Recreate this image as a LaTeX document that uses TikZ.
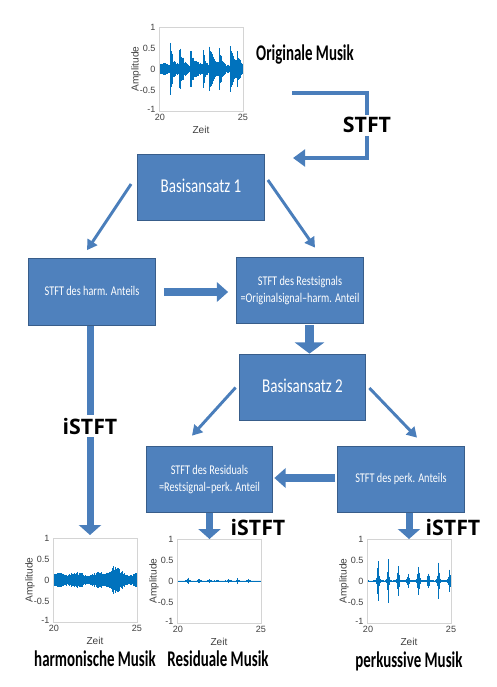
\documentclass[tikz,border=0pt]{standalone}
\usepackage{fontspec}
\setmainfont{Carlito}
\newfontfamily\achsenfont{Liberation Sans}
\newfontfamily\fettfont{Open Sans}
\usetikzlibrary{arrows.meta, calc, positioning}

\definecolor{kastenblau}{HTML}{4F81BD}
\definecolor{randblau}{HTML}{385D8A}
\definecolor{pfeilblau}{HTML}{4A7EBB}
\definecolor{wellenblau}{HTML}{0072BD}
\definecolor{achsgrau}{HTML}{D4D4D4}
\definecolor{beschrgrau}{HTML}{404040}

% Text wie im Original etwas in die Hoehe gezogen
\newcommand{\hoch}[2][1.3]{\scalebox{1}[#1]{\begin{tabular}{@{}c@{}}#2\end{tabular}}}

% Achsen + Signal, #1 Name, #2/#3 linke obere Ecke, #4 Huellkurve
\newcommand{\musikplot}[4]{%
  \begin{scope}[shift={(#2,#3)}]
    \pgfmathsetseed{11}
    \foreach \i in {0,...,168}{
      \pgfmathsetmacro{\zt}{\i/168}
      \pgfmathsetmacro{\amp}{42*(#4)*(0.6+0.4*rnd)}
      \draw[welle] (\i/2,42-\amp) -- (\i/2,42+\amp);
    }
    \node[achse] (#1) at (0,0) {};
    \node[tick, anchor=east] at (-2,0) {1};
    \node[tick, anchor=east] at (-2,21) {0.5};
    \node[tick, anchor=east] at (-2,42) {0};
    \node[tick, anchor=east] at (-2,63) {-0.5};
    \node[tick, anchor=east] at (-2,82) {-1};
    \node[tick] at (1,90) {20};
    \node[tick] at (84,90) {25};
    \node[tick, font=\achsenfont\fontsize{7.6}{8}\selectfont] at (42,103) {Zeit};
    \node[tick, font=\achsenfont\fontsize{7.6}{8}\selectfont, rotate=90] at (-23,42) {Amplitude};
  \end{scope}}

\begin{document}
\begin{tikzpicture}[x=0.75pt, y=-0.75pt,
    declare function={bu(\p,\q)=(\p>\q)*exp(-max(\p-\q,0)*32);
                      sp(\p,\q)=exp(-abs(\p-\q)*120);},
    kasten/.style={draw=randblau, fill=kastenblau, line width=0.8pt, text=white,
                   minimum width=95pt, minimum height=50pt, inner sep=0pt},
    gross/.style={kasten, font=\fontsize{11.3}{13}\selectfont},
    klein/.style={kasten, font=\fontsize{7.7}{9.5}\selectfont},
    duenn/.style={draw=pfeilblau, line width=2.2pt, -{Triangle[length=7.5pt, width=8.5pt]}},
    block/.style={draw=pfeilblau, line width=5.5pt, -{Triangle[length=8.5pt, width=14.5pt]}},
    blockdick/.style={draw=pfeilblau, line width=7pt, -{Triangle[length=8.5pt, width=22pt]}},
    lang/.style={draw=pfeilblau, line width=5.25pt, -{Triangle[length=7.5pt, width=16.5pt]}},
    knick/.style={draw=pfeilblau, line width=3pt, -{Triangle[length=9pt, width=12.5pt]}},
    musik/.style={font=\bfseries\fontsize{11.2}{13}\selectfont},
    fett/.style={font=\fettfont\bfseries\fontsize{16}{18}\selectfont, inner sep=2pt},
    welle/.style={draw=wellenblau, line width=0.45pt},
    achse/.style={draw=achsgrau, line width=0.6pt, minimum width=63pt, minimum height=63pt,
                  inner sep=0pt, outer sep=0pt, anchor=north west},
    tick/.style={font=\achsenfont\fontsize{6.8}{7}\selectfont, text=beschrgrau, inner sep=1pt}]
\useasboundingbox (0,0) rectangle (497,687);

% Signale
\musikplot{origplot}{159}{27}{0.12+0.04*sin(\zt*1700)+0.65*bu(\zt,0.13)+0.55*bu(\zt,0.24)+0.6*bu(\zt,0.37)+0.4*bu(\zt,0.52)+0.65*bu(\zt,0.6)+0.5*bu(\zt,0.71)+0.6*bu(\zt,0.85)+0.35*bu(\zt,0.93)}
\musikplot{harmplot}{53}{538}{0.15+0.04*sin(\zt*1500)+0.2*exp(-abs(\zt-0.72)*14)+0.08*exp(-abs(\zt-0.22)*25)}
\musikplot{residplot}{177}{539}{0.012+0.09*sp(\zt,0.13)+0.055*sp(\zt,0.26)+0.045*sp(\zt,0.38)+0.035*sp(\zt,0.48)+0.07*sp(\zt,0.61)+0.055*sp(\zt,0.72)+0.065*sp(\zt,0.85)}
\musikplot{perkplot}{367}{539}{0.014+0.6*sp(\zt,0.13)+0.6*sp(\zt,0.25)+0.55*sp(\zt,0.37)+0.28*sp(\zt,0.49)+0.65*sp(\zt,0.61)+0.32*sp(\zt,0.73)+0.65*sp(\zt,0.85)+0.38*sp(\zt,0.98)}

% Kaesten
\node[gross] (b1) at (201,187.5) {\hoch{Basisansatz 1}};
\node[klein] (harm) at (92,292) {\hoch{STFT des harm. Anteils}};
\node[klein] (rest) at (300,290.5) {\hoch{STFT des Restsignals\\=Originalsignal--harm. Anteil}};
\node[gross] (b2) at (302.5,387.5) {\hoch{Basisansatz 2}};
\node[klein] (resid) at (209.5,479.5) {\hoch{STFT des Residuals\\=Restsignal--perk. Anteil}};
\node[klein] (perk) at (401,479.5) {\hoch{STFT des perk. Anteils}};

% Pfeile
\coordinate (stftan) at (292,93);
\coordinate (stftab) at (293,158);
\coordinate (stftpos) at (367,125);
\draw[knick] (stftan) -- (stftan -| stftpos) -- (stftpos |- stftab) -- (stftab);
\draw[duenn] ($(b1.west)+(-6,-3.5)$) -- ($(harm.north)+(-5,-8)$);
\draw[duenn] ($(b1.east)+(3,-7.5)$) -- ($(rest.north)+(15,-9)$);
\draw[block] ($(harm.east)+(8,0)$) -- ($(rest.west |- harm.east)+(-8,0)$);
\draw[blockdick] ($(rest.south)+(9.5,1)$) -- ($(b2.north)+(7,0)$);
\draw[duenn] ($(b2.west)+(-3,0)$) -- ($(resid.north)+(-17.5,-10)$);
\draw[duenn] ($(b2.east)+(3,0.5)$) -- ($(perk.north)+(16,-8)$);
\draw[block] ($(perk.west)+(-2,-1.5)$) -- ($(resid.east)+(1,-1.5)$);
\draw[lang] ($(harmplot.north |- harm.south)+(-5,0)$) -- ($(harmplot.north)+(-5,-3)$);
\draw[lang] (resid.south) -- (resid.south |- residplot.north);
\draw[lang] (perkplot.north |- perk.south) -- (perkplot.north);

% Beschriftungen
\node[fett, fill=white] (stft) at (stftpos) {STFT};
\node[fett, fill=white] (istfta) at (90,426) {iSTFT};
\node[fett] (istftb) at (258,527) {iSTFT};
\node[fett] (istftc) at (453,527) {iSTFT};
\node[musik] (origtxt) at (305,55) {\hoch[1.5]{Originale Musik}};
\node[musik] (harmtxt) at (95,661) {\hoch[1.5]{harmonische Musik}};
\node[musik] (residtxt) at (218,661) {\hoch[1.5]{Residuale Musik}};
\node[musik] (perktxt) at (409,662) {\hoch[1.5]{perkussive Musik}};
\end{tikzpicture}
\end{document}
